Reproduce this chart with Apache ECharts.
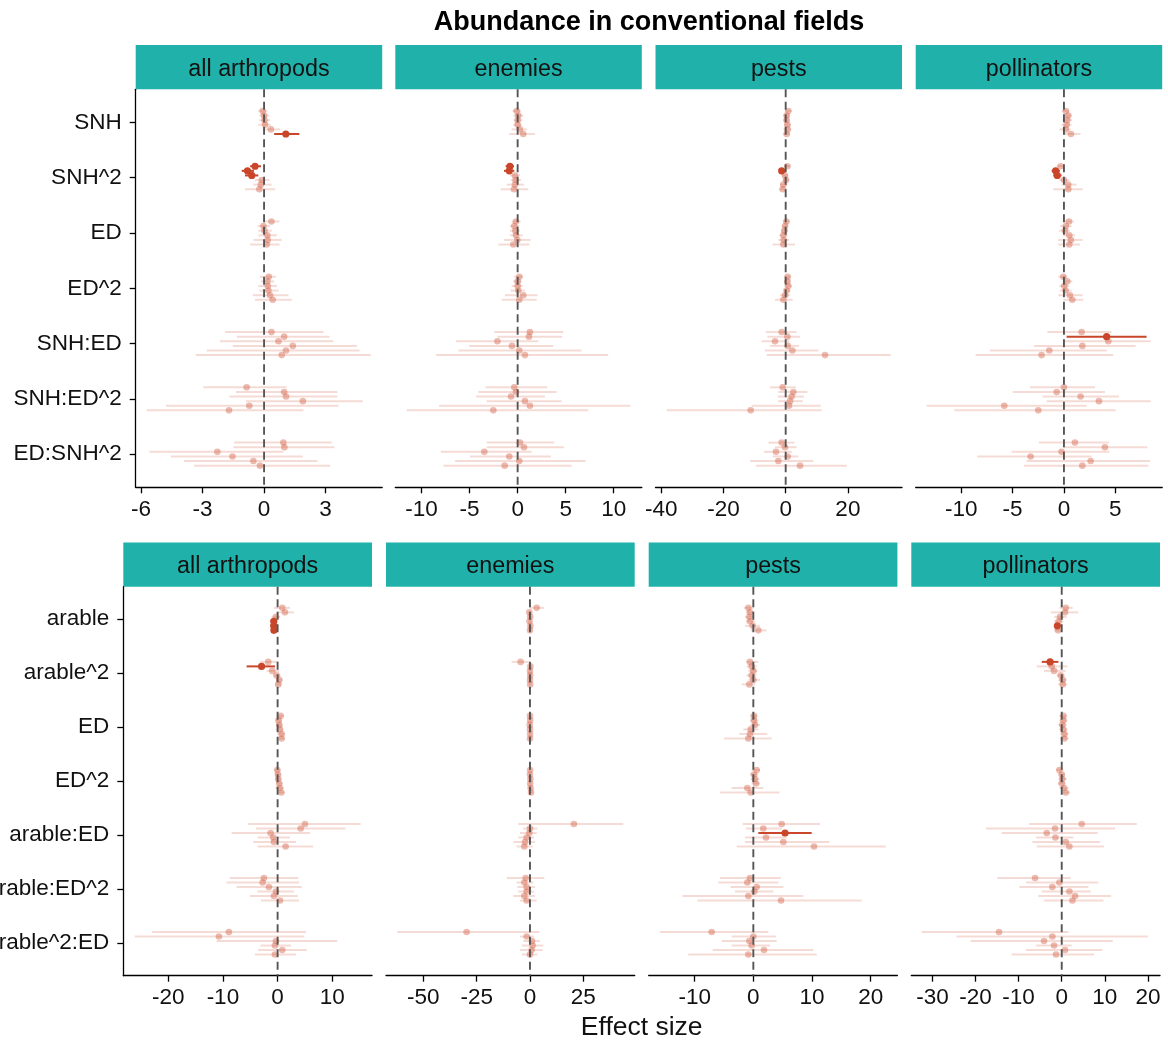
<!DOCTYPE html>
<html><head><meta charset="utf-8">
<script src="https://cdn.jsdelivr.net/npm/echarts@6/dist/echarts.min.js"></script>
<style>html,body{margin:0;padding:0;background:#fff}#c{width:1168px;height:1041px}</style>
</head><body><div id="c"></div>
<script>
// ---------- DATA ----------
const chartTitle = 'Abundance in conventional fields';
const xTitle = 'Effect size';
const groupNames = ['all arthropods', 'enemies', 'pests', 'pollinators'];
const topTerms = ['SNH', 'SNH^2', 'ED', 'ED^2', 'SNH:ED', 'SNH:ED^2', 'ED:SNH^2'];
const bottomTerms = ['arable', 'arable^2', 'ED', 'ED^2', 'arable:ED', 'arable:ED^2', 'arable^2:ED'];

// each row: [estimate, lower, upper, significant]; 6 rows (models) per term, terms in order
const topAll = [
  [-0.07,-0.28,0.16,0],[0,-0.23,0.26,0],[0.02,-0.23,0.29,0],[0.05,-0.28,0.33,0],[0.33,-0.07,0.78,0],[1.06,0.49,1.72,1],
  [-0.44,-0.68,-0.15,1],[-0.81,-1.09,-0.49,1],[-0.6,-0.93,-0.28,1],[-0.11,-0.44,0.26,0],[-0.16,-0.52,0.37,0],[-0.23,-0.93,0.54,0],
  [0.36,-0.02,0.75,0],[-0.03,-0.31,0.29,0],[0.02,-0.28,0.37,0],[0.16,-0.28,0.62,0],[0.18,-0.52,0.86,0],[0.13,-0.68,0.75,0],
  [0.23,-0.2,0.57,0],[0.16,-0.16,0.49,0],[0.18,-0.28,0.62,0],[0.21,-0.23,0.7,0],[0.29,-0.55,1.19,0],[0.42,-0.44,1.35,0],
  [0.36,-1.9,2.89,0],[0.98,-1.33,3.19,0],[0.7,-2.15,3.38,0],[1.4,-1.53,4.52,0],[1.07,-2.8,4.65,0],[0.86,-3.33,5.2,0],
  [-0.85,-2.96,1.1,0],[0.98,-1.37,3.58,0],[1.07,-1.69,3.58,0],[1.89,-0.88,4.81,0],[-0.72,-4.78,3.63,0],[-1.71,-5.72,1.92,0],
  [0.94,-1.46,3.3,0],[0.99,-1.5,3.43,0],[-2.28,-5.59,0.94,0],[-1.54,-4.54,1.89,0],[-0.52,-3.9,2.6,0],[-0.2,-3.41,3.22,0]
];
const topEnemies = [
  [-0.1,-0.52,0.35,0],[0.07,-0.45,0.59,0],[0,-0.38,0.49,0],[0,-0.45,0.42,0],[0.24,-0.62,1.0,0],[0.59,-0.87,1.8,0],
  [-0.8,-1.25,-0.38,1],[-0.87,-1.42,-0.35,1],[-0.28,-0.8,0.24,0],[-0.21,-0.69,0.35,0],[-0.28,-1.14,0.66,0],[-0.38,-1.77,1.11,0],
  [-0.17,-0.62,0.31,0],[-0.35,-0.8,0.17,0],[-0.24,-0.8,0.24,0],[-0.17,-0.8,0.52,0],[-0.03,-1.42,1.35,0],[-0.45,-2.01,1.21,0],
  [0.17,-0.38,0.59,0],[0,-0.45,0.42,0],[0,-0.62,0.52,0],[0.07,-0.73,0.76,0],[0.59,-1.32,2.08,0],[0.17,-1.66,1.98,0],
  [1.28,-2.43,4.75,0],[1.18,-2.11,4.64,0],[-2.11,-6.41,2.15,0],[-0.59,-5.06,3.71,0],[0.17,-6.17,6.66,0],[0.76,-8.49,9.43,0],
  [-0.35,-3.33,3.08,0],[-0.17,-4.09,4.06,0],[-0.69,-4.33,2.84,0],[0.76,-3.22,4.58,0],[1.28,-8.18,11.75,0],[-2.53,-11.54,7.35,0],
  [0.24,-3.22,3.81,0],[0.66,-3.22,4.82,0],[-3.47,-8.0,1.46,0],[-0.87,-4.96,3.47,0],[0.17,-6.52,7.07,0],[-1.35,-7.73,5.62,0]
];
const topPests = [
  [0.86,-0.21,1.93,0],[0.32,-0.75,1.39,0],[0.32,-0.75,1.18,0],[0.54,-0.54,1.61,0],[0.64,-0.75,1.82,0],[0.32,-0.75,1.39,0],
  [0.54,-0.54,1.61,0],[-1.29,-2.04,-0.54,1],[-0.21,-1.29,0.64,0],[0.11,-0.96,1.18,0],[-0.75,-1.82,0.54,0],[-0.96,-2.04,0.32,0],
  [0.21,-0.75,1.39,0],[-0.21,-1.18,0.75,0],[-0.43,-1.5,0.75,0],[-0.75,-2.04,0.54,0],[-0.64,-2.36,1.18,0],[-0.75,-4.18,3.0,0],
  [0.64,-0.43,1.61,0],[0.54,-0.54,1.61,0],[0.86,-0.43,1.93,0],[0.32,-0.75,1.61,0],[-0.21,-1.82,1.39,0],[-0.75,-3.43,2.25,0],
  [-1.29,-6.43,3.54,0],[0.54,-5.9,4.61,0],[-3.43,-7.72,1.18,0],[0.64,-5.04,4.29,0],[2.14,-6.65,10.5,0],[12.65,-6.11,33.76,0],
  [-0.96,-5.04,3.32,0],[2.47,-2.36,6.97,0],[1.93,-2.57,5.9,0],[1.39,-2.36,5.47,0],[1.07,-10.93,11.25,0],[-11.25,-38.26,11.58,0],
  [-1.29,-5.57,2.79,0],[-0.21,-3.43,3.54,0],[-3.11,-6.97,1.93,0],[0.64,-4.18,4.07,0],[-2.36,-11.47,8.9,0],[4.61,-9.54,19.61,0]
];
const topPollinators = [
  [0.19,-0.23,0.52,0],[0.42,-0.05,0.75,0],[0.32,-0.13,0.81,0],[0.26,-0.23,0.75,0],[0.19,-0.45,0.65,0],[0.68,-0.05,1.62,0],
  [-0.32,-0.71,0.03,0],[-0.81,-1.2,-0.39,1],[-0.65,-1.04,-0.23,1],[0,-0.45,0.52,0],[0.42,-0.23,1.23,0],[0.42,-1.04,1.82,0],
  [0.49,-0.05,0.97,0],[0.19,-0.39,0.75,0],[0.1,-0.45,0.58,0],[0.52,-0.06,1.07,0],[0.68,-0.55,1.82,0],[0.52,-0.55,1.56,0],
  [-0.06,-0.55,0.32,0],[0.32,-0.13,0.81,0],[0.03,-0.45,0.52,0],[0.16,-0.39,0.75,0],[0.58,-0.55,1.82,0],[0.81,-0.06,1.88,0],
  [1.72,-1.62,4.64,0],[4.16,0.26,8.05,1],[4.32,-0.05,8.44,0],[1.79,-2.92,6.98,0],[-1.43,-7.21,4.16,0],[-2.18,-8.6,4.81,0],
  [0,-3.31,3.02,0],[-0.71,-5.0,3.99,0],[1.62,-2.08,5.36,0],[3.41,-1.69,8.44,0],[-5.81,-13.38,2.21,0],[-2.5,-10.68,5.03,0],
  [1.07,-2.44,4.38,0],[3.99,-0.05,8.12,0],[-0.23,-5.1,4.42,0],[-3.25,-8.44,2.69,0],[2.6,-3.64,8.38,0],[1.79,-3.9,8.21,0]
];
const bottomAll = [
  [0.85,-0.67,2.26,0],[1.34,-0.18,2.99,0],[-0.3,-1.1,0.43,0],[-0.7,-1.1,-0.2,1],[-0.72,-1.12,-0.24,1],[-0.68,-1.1,-0.2,1],
  [-1.71,-3.23,0.1,0],[-2.93,-5.67,-0.49,1],[-0.98,-2.01,0.3,0],[-0.18,-0.79,0.55,0],[0.3,-0.3,0.91,0],[0.12,-0.49,0.73,0],
  [0.55,-0.18,1.16,0],[0.18,-0.43,0.79,0],[0.3,-0.3,0.91,0],[0.43,-0.18,1.04,0],[0.73,-0.05,1.34,0],[0.73,-0.05,1.34,0],
  [-0.06,-0.61,0.55,0],[0.06,-0.49,0.67,0],[0.12,-0.49,0.73,0],[0.3,-0.3,0.91,0],[0.43,-0.37,1.16,0],[0.67,-0.06,1.34,0],
  [5.0,-5.37,15.18,0],[4.21,-3.96,12.44,0],[-1.28,-8.41,5.91,0],[-0.79,-3.66,2.26,0],[-0.67,-4.45,3.35,0],[1.46,-3.66,6.52,0],
  [-2.5,-8.72,3.78,0],[-2.74,-9.33,3.9,0],[-1.59,-7.5,4.39,0],[-0.3,-3.72,2.99,0],[-0.67,-5.06,3.66,0],[0.43,-3.05,3.9,0],
  [-8.9,-22.93,5.18,0],[-10.73,-26.1,4.88,0],[-0.3,-11.16,10.91,0],[-0.49,-3.11,2.44,0],[0.85,-3.54,5.3,0],[-0.49,-4.15,3.35,0]
];
const bottomEnemies = [
  [3.13,-0.3,6.56,0],[-0.3,-1.1,0.6,0],[0.1,-0.8,1.0,0],[-0.2,-1.0,0.7,0],[0.2,-0.7,1.0,0],[0,-0.9,0.9,0],
  [-4.38,-8.59,-0.5,0],[0.2,-0.8,1.0,0],[0,-0.8,0.8,0],[0.1,-0.9,0.9,0],[0,-0.8,0.8,0],[0.1,-0.7,0.9,0],
  [0,-0.6,0.6,0],[0.1,-0.6,0.7,0],[-0.1,-0.8,0.6,0],[0,-0.7,0.7,0],[0.1,-0.6,0.8,0],[0,-0.8,0.8,0],
  [0.1,-0.6,0.7,0],[0,-0.7,0.7,0],[0.2,-0.6,0.9,0],[0.1,-0.7,0.8,0],[0.3,-0.6,1.1,0],[0.5,-0.5,1.5,0],
  [20.6,-5.47,43.75,0],[0,-3.13,3.44,0],[-0.31,-4.69,3.13,0],[-1.56,-5.47,1.88,0],[-2.34,-7.81,2.34,0],[-2.66,-6.25,1.25,0],
  [-2.03,-10.94,6.72,0],[-2.66,-6.25,1.56,0],[-1.56,-5.94,2.34,0],[-1.56,-5.47,1.88,0],[-2.66,-7.81,2.34,0],[-1.56,-4.69,3.13,0],
  [-29.7,-62.2,4.38,0],[-1.56,-4.69,1.88,0],[0.94,-3.13,4.69,0],[1.25,-3.91,6.25,0],[0.78,-4.69,5.94,0],[0,-3.91,3.44,0]
];
const bottomPests = [
  [-0.85,-1.59,0.05,0],[-0.57,-1.25,0.11,0],[-0.68,-1.42,0.11,0],[-0.57,-1.25,0.28,0],[-0.11,-1.42,1.14,0],[0.85,-0.45,2.27,0],
  [-0.57,-1.25,0.85,0],[-0.28,-1.14,0.57,0],[0,-0.85,0.68,0],[-0.28,-1.14,0.57,0],[0,-0.85,1.14,0],[-0.68,-1.99,0.28,0],
  [0.11,-0.57,0.68,0],[0.11,-0.57,0.85,0],[0.28,-0.57,1.14,0],[-0.45,-1.7,0.85,0],[-0.57,-2.39,2.39,0],[-0.85,-5.0,3.13,0],
  [0.57,-0.28,1.14,0],[0.11,-0.57,0.85,0],[0.28,-0.45,1.02,0],[0.45,-0.28,1.14,0],[-1.02,-3.69,1.7,0],[-0.45,-5.68,4.43,0],
  [4.83,-1.82,11.36,0],[1.7,-1.25,4.83,0],[5.4,0.85,9.94,1],[2.16,-1.42,5.68,0],[5.11,-1.42,12.95,0],[10.34,-2.84,22.56,0],
  [-0.57,-5.68,4.66,0],[-1.02,-5.97,4.26,0],[0.57,-3.86,5.11,0],[0.17,-3.13,3.41,0],[-0.85,-12.1,8.52,0],[4.72,-9.55,18.47,0],
  [-7.1,-15.9,2.56,0],[0,-3.69,3.86,0],[-0.68,-5.4,3.98,0],[-0.28,-3.69,2.84,0],[1.82,-6.93,10.23,0],[-0.85,-11.08,10.8,0]
];
const bottomPollinators = [
  [0.93,-0.54,2.55,0],[0.77,-2.55,3.87,0],[-0.39,-1.78,1.16,0],[-0.7,-1.78,0.39,0],[-1.01,-1.78,-0.23,1],[-0.85,-1.78,0.08,0],
  [-2.71,-4.64,-0.77,1],[-2.32,-5.8,1.32,0],[-1.78,-4.1,0.93,0],[-0.23,-1.16,0.77,0],[0.23,-0.77,1.16,0],[0.23,-0.77,1.32,0],
  [0.39,-0.54,1.16,0],[0.39,-0.54,1.32,0],[0.15,-0.77,1.16,0],[0.39,-0.54,1.32,0],[0.62,-0.39,1.55,0],[0.62,-0.39,1.55,0],
  [-0.54,-1.32,0.39,0],[0,-0.77,0.77,0],[0.15,-0.77,1.16,0],[0,-0.93,0.93,0],[0.54,-0.54,1.55,0],[0.93,-0.15,1.93,0],
  [4.64,-7.59,17.41,0],[-1.55,-17.57,12.38,0],[-3.48,-13.93,8.36,0],[-1.47,-5.96,2.71,0],[0.93,-6.81,8.9,0],[1.78,-5.8,9.83,0],
  [-6.19,-14.94,2.09,0],[-0.54,-8.28,8.51,0],[-2.17,-9.83,6.19,0],[1.78,-4.64,6.73,0],[3.1,-5.42,11.46,0],[2.48,-4.1,9.67,0],
  [-14.55,-32.51,1.55,0],[-2.17,-24.38,19.97,0],[-4.1,-21.13,11.84,0],[-1.78,-5.96,2.32,0],[0.77,-8.28,9.44,0],[-1.32,-11.61,7.51,0]
];

// x-axis tick labels per panel
const ticksTopAll = [-6, -3, 0, 3];
const ticksTopEnemies = [-10, -5, 0, 5, 10];
const ticksTopPests = [-40, -20, 0, 20];
const ticksTopPollinators = [-10, -5, 0, 5];
const ticksBottomAll = [-20, -10, 0, 10];
const ticksBottomEnemies = [-50, -25, 0, 25];
const ticksBottomPests = [-10, 0, 10, 20];
const ticksBottomPollinators = [-30, -20, -10, 0, 10, 20];

// x-axis limits per panel
const limTopAll = [-6.26, 5.76];
const limTopEnemies = [-12.74, 12.93];
const limTopPests = [-41.86, 37.4];
const limTopPollinators = [-14.44, 9.57];
const limBottomAll = [-28.2, 17.25];
const limBottomEnemies = [-67.5, 49.1];
const limBottomPests = [-17.83, 24.55];
const limBottomPollinators = [-34.9, 22.8];

// ---------- LAYOUT / STYLE ----------
const FONT = "'Liberation Sans', Arial, Helvetica, sans-serif";
const SIG = '#c9462a';
const LIGHT_PT = 'rgba(204,74,44,0.38)';
const LIGHT_LN = 'rgba(204,74,44,0.2)';
const TEXT = '#111';

const panels = [
  {rows: topAll, terms: topTerms, ticks: ticksTopAll, lim: limTopAll, name: groupNames[0], r: 0, c: 0},
  {rows: topEnemies, terms: topTerms, ticks: ticksTopEnemies, lim: limTopEnemies, name: groupNames[1], r: 0, c: 1},
  {rows: topPests, terms: topTerms, ticks: ticksTopPests, lim: limTopPests, name: groupNames[2], r: 0, c: 2},
  {rows: topPollinators, terms: topTerms, ticks: ticksTopPollinators, lim: limTopPollinators, name: groupNames[3], r: 0, c: 3},
  {rows: bottomAll, terms: bottomTerms, ticks: ticksBottomAll, lim: limBottomAll, name: groupNames[0], r: 1, c: 0},
  {rows: bottomEnemies, terms: bottomTerms, ticks: ticksBottomEnemies, lim: limBottomEnemies, name: groupNames[1], r: 1, c: 1},
  {rows: bottomPests, terms: bottomTerms, ticks: ticksBottomPests, lim: limBottomPests, name: groupNames[2], r: 1, c: 2},
  {rows: bottomPollinators, terms: bottomTerms, ticks: ticksBottomPollinators, lim: limBottomPollinators, name: groupNames[3], r: 1, c: 3}
];

const L = [
  {lefts: [135.7, 395.3, 655.5, 915.7], w: 246.5, top: 89.3, h: 398},
  {lefts: [123.3, 386, 648.7, 911.3], w: 248.7, top: 586.7, h: 389}
];
const STRIP_H = 44.3;
const NMOD = 6;

function renderItem(params, api) {
  const est = api.value(0), lo = api.value(1), hi = api.value(2), y = api.value(3), sig = api.value(4);
  const a = api.coord([lo, y]), b = api.coord([hi, y]), p = api.coord([est, y]);
  return {
    type: 'group',
    children: [
      {type: 'line', shape: {x1: a[0], y1: a[1], x2: b[0], y2: b[1]},
       style: {stroke: sig ? SIG : LIGHT_LN, lineWidth: 2}},
      {type: 'circle', shape: {cx: p[0], cy: p[1], r: sig ? 3.6 : 3.3},
       style: {fill: sig ? SIG : LIGHT_PT}}
    ]
  };
}

const grids = [], xAxes = [], yAxes = [], series = [], graphics = [];
const axisLineStyle = {color: '#000', width: 1.3};

panels.forEach((p, i) => {
  const lay = L[p.r];
  const left = lay.lefts[p.c];
  grids.push({left: left, top: lay.top, width: lay.w, height: lay.h, containLabel: false, outerBoundsMode: 'none'});
  xAxes.push({
    gridIndex: i, type: 'value', min: p.lim[0], max: p.lim[1], position: 'bottom',
    axisLine: {show: true, onZero: false, lineStyle: axisLineStyle},
    axisTick: {show: true, length: 6, customValues: p.ticks, lineStyle: axisLineStyle},
    axisLabel: {show: true, customValues: p.ticks, fontSize: 22.5, color: TEXT, fontFamily: FONT, margin: 11,
                formatter: v => String(v)},
    splitLine: {show: false}
  });
  const cats = p.terms.map((t, k) => k);
  yAxes.push({
    gridIndex: i, type: 'value', min: -0.6, max: 6.6, inverse: true,
    axisLine: {show: p.c === 0, onZero: false, lineStyle: axisLineStyle},
    axisTick: {show: p.c === 0, length: 6, customValues: cats, lineStyle: axisLineStyle},
    axisLabel: {show: p.c === 0, customValues: cats, fontSize: 22.5, color: TEXT, fontFamily: FONT, margin: 14,
                padding: [4, 0, 0, 0], formatter: v => p.terms[Math.round(v)]},
    splitLine: {show: false}
  });
  const pts = p.rows.map((row, j) => {
    const cat = Math.floor(j / NMOD), g = j % NMOD;
    return [row[0], row[1], row[2], cat + (g - (NMOD - 1) / 2) / 12, row[3]];
  });
  const data = pts.filter(d => !d[4]).concat(pts.filter(d => d[4]));
  series.push({
    type: 'custom', xAxisIndex: i, yAxisIndex: i, renderItem: renderItem,
    encode: {x: [0, 1, 2], y: 3}, data: data, z: 2, clip: false, silent: true
  });
  series.push({
    type: 'line', xAxisIndex: i, yAxisIndex: i, data: [[0, -0.6], [0, 6.6]], symbol: 'none', z: 3, silent: true,
    lineStyle: {color: '#555', width: 1.9, type: [8, 4.5]}
  });
  graphics.push({type: 'rect', shape: {x: left, y: lay.top - STRIP_H, width: lay.w, height: STRIP_H},
                 style: {fill: '#20b2aa'}, silent: true});
  graphics.push({type: 'text', x: left + lay.w / 2, y: lay.top - STRIP_H / 2 + 2,
                 style: {text: p.name, fill: TEXT, fontSize: 23.3, fontFamily: FONT, align: 'center', verticalAlign: 'middle'}});
});

graphics.push({type: 'text', x: 649, y: 23,
  style: {text: chartTitle, fill: '#000', fontSize: 27, fontWeight: 'bold', fontFamily: FONT, align: 'center', verticalAlign: 'middle'}});
graphics.push({type: 'text', x: 641.7, y: 1028,
  style: {text: xTitle, fill: TEXT, fontSize: 26.5, fontFamily: FONT, align: 'center', verticalAlign: 'middle'}});

const chart = echarts.init(document.getElementById('c'), null, {renderer: 'canvas'});
chart.setOption({
  animation: false,
  backgroundColor: '#fff',
  grid: grids, xAxis: xAxes, yAxis: yAxes, series: series, graphic: graphics
});
</script></body></html>
